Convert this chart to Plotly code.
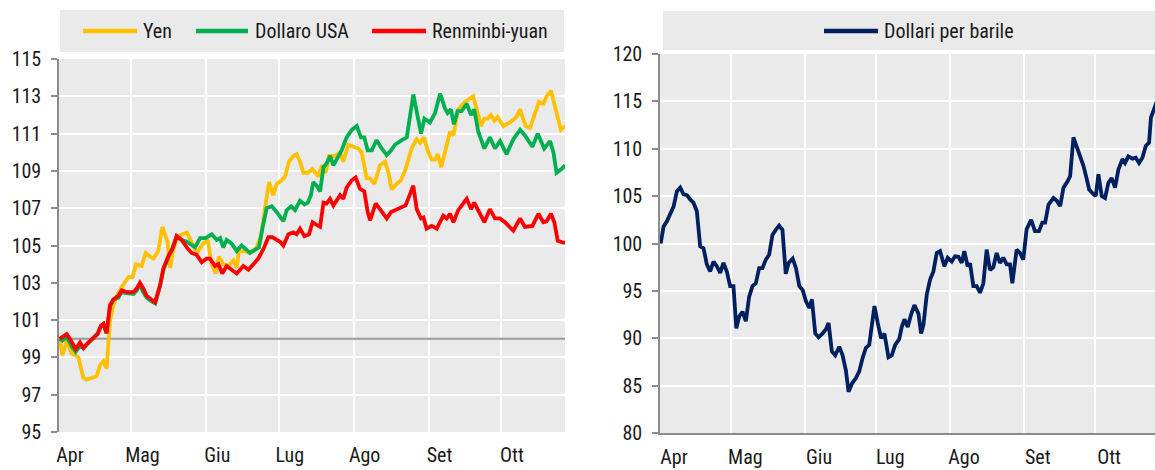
import plotly.graph_objects as go

# ---------------- data (x = days since 1 April) ----------------
months = ["Apr", "Mag", "Giu", "Lug", "Ago", "Set", "Ott"]
month_start_day = [0, 30, 61, 91, 122, 153, 183]

yen_x = [0.3, 1.4, 3.2, 5.2, 6.9, 8.0, 10.1, 11.5, 13.5, 15.6, 17.0, 18.4, 19.7, 21.1, 22.5, 23.9,
         26.6, 28.7, 30.4, 31.9, 34.2, 35.9, 37.7, 39.1, 41.1, 42.8, 44.9, 46.0, 47.3, 49.4, 52.9,
         55.6, 57.0, 59.8, 61.6, 63.2, 64.9, 66.2, 68.0, 70.1, 72.2, 73.6, 74.5, 77.0, 79.1, 81.8,
         83.6, 85.3, 87.0, 88.7, 90.1, 92.2, 93.6, 95.2, 97.0, 98.4, 99.8, 101.2, 103.0, 104.9,
         106.0, 107.4, 108.8, 110.4, 111.8, 114.3, 116.4, 117.7, 119.8, 121.9, 123.9, 125.3, 127.4,
         128.8, 130.6, 132.9, 135.0, 136.6, 137.7, 139.8, 141.6, 143.5, 146.0, 148.1, 149.5, 151.1,
         152.9, 154.3, 155.7, 156.8, 158.2, 159.8, 161.9, 163.3, 165.3, 168.1, 171.5, 173.6, 174.7,
         176.1, 177.5, 178.8, 180.2, 181.6, 184.0, 186.7, 189.5, 190.9, 193.2, 195.0, 196.8, 198.7,
         200.5, 201.9, 203.7, 205.3, 207.0, 207.8, 209.5]
yen_y = [100.0, 99.1, 99.9, 99.2, 99.1, 99.0, 97.9, 97.8, 97.9, 98.0, 98.6, 98.8, 98.4, 100.9, 101.8, 102.3,
         102.9, 103.3, 103.3, 104.0, 103.9, 104.6, 104.4, 104.3, 104.7, 106.0, 105.2, 103.8, 104.8, 105.5, 105.7,
         104.9, 104.6, 105.1, 105.3, 104.0, 103.5, 104.4, 104.0, 103.9, 104.2, 103.8, 104.7, 104.7, 104.6, 104.9,
         105.5, 107.0, 108.4, 107.7, 108.3, 108.5, 108.7, 109.5, 109.8, 109.9, 109.5, 108.9, 108.9, 109.1,
         108.9, 108.7, 109.3, 108.9, 109.8, 109.8, 110.0, 109.5, 110.4, 110.3, 110.2, 110.0, 108.6,
         108.6, 108.3, 109.3, 109.5, 108.8, 108.0, 108.3, 108.5, 109.1, 110.2, 110.7, 110.5, 110.8,
         110.0, 109.6, 109.6, 109.9, 109.2, 110.0, 111.1, 110.9, 112.3, 112.7, 113.0, 112.0, 111.4,
         111.8, 111.8, 112.0, 111.7, 111.9, 111.4, 111.6, 111.9, 112.3, 111.4, 111.3, 112.0, 112.7,
         112.6, 113.0, 113.3, 112.5, 111.5, 111.2, 111.4]

usd_x = [0.3, 1.4, 3.2, 5.2, 6.9, 8.7, 10.1, 12.1, 14.6, 16.0, 17.4, 18.4, 19.7, 21.1, 22.5, 24.6,
         25.9, 28.0, 30.8, 32.2, 33.5, 34.9, 36.3, 38.4, 39.8, 41.8, 43.2, 45.3, 46.9, 48.7, 50.8,
         52.9, 56.3, 58.4, 60.7, 63.2, 65.3, 66.7, 68.0, 69.4, 71.5, 73.6, 75.6, 79.1, 81.2, 82.8,
         84.2, 86.0, 88.1, 90.1, 92.9, 94.3, 96.1, 97.7, 99.8, 101.6, 103.0, 104.3, 105.3, 106.7,
         108.1, 109.5, 110.8, 112.2, 113.6, 115.7, 117.0, 119.1, 121.2, 123.3, 125.0, 126.4, 127.8,
         129.5, 131.5, 133.6, 135.7, 137.5, 139.1, 141.9, 144.0, 146.7, 148.5, 149.9, 151.3, 153.6,
         155.7, 157.8, 159.8, 160.9, 162.3, 163.5, 165.0, 166.7, 168.8, 170.6, 171.9, 173.6, 176.1,
         178.4, 180.5, 182.6, 185.3, 188.1, 190.9, 192.9, 196.0, 198.2, 200.9, 203.3, 204.7, 206.0,
         208.1, 209.5]
usd_y = [100.0, 99.9, 100.1, 99.6, 99.3, 99.6, 99.5, 99.8, 100.1, 100.3, 100.7, 100.8, 100.3, 101.7, 102.1, 102.2,
         102.5, 102.45, 102.4, 102.6, 102.9, 102.5, 102.2, 102.0, 101.9, 102.8, 103.7, 104.4, 104.8, 105.5, 105.3,
         105.2, 104.9, 105.4, 105.4, 105.6, 105.3, 105.4, 104.9, 105.3, 105.1, 104.7, 105.0, 104.6, 104.8, 104.9,
         105.9, 107.0, 107.1, 106.8, 106.3, 106.9, 107.1, 106.9, 107.4, 107.2, 107.3, 107.7, 108.4, 108.2,
         107.9, 109.2, 109.4, 109.8, 109.3, 109.8, 110.1, 110.8, 111.2, 111.4, 110.8, 110.8, 110.1,
         110.1, 110.65, 110.2, 109.85, 110.1, 110.4, 110.65, 110.8, 113.1, 111.9, 111.0, 111.8, 111.6,
         112.1, 113.15, 112.35, 112.1, 112.3, 111.5, 112.2, 112.2, 112.6, 112.0, 112.3, 111.1, 110.2,
         110.8, 110.2, 110.6, 109.9, 110.7, 111.2, 110.9, 110.3, 111.0, 110.2, 110.6, 110.0, 108.9,
         109.1, 109.3]

cny_x = [0.3, 3.2, 4.5, 6.9, 8.7, 10.1, 12.1, 14.6, 16.0, 17.4, 18.4, 19.7, 21.1, 22.5, 24.6, 25.9,
         28.0, 30.8, 32.2, 33.5, 34.9, 36.3, 38.4, 39.8, 41.8, 43.2, 45.3, 46.9, 48.7, 50.8, 52.9,
         54.9, 57.0, 59.1, 61.1, 62.5, 64.6, 66.0, 67.6, 69.4, 71.5, 73.6, 76.3, 78.4, 80.5, 82.5,
         84.6, 86.7, 88.3, 91.5, 92.9, 95.0, 97.0, 98.4, 99.8, 101.6, 103.5, 105.0, 106.7, 108.1,
         109.5, 110.8, 112.2, 113.6, 116.4, 117.7, 119.1, 121.2, 122.8, 124.6, 126.4, 127.8, 128.8,
         131.1, 132.9, 135.7, 137.5, 139.4, 141.6, 143.5, 146.7, 148.1, 149.9, 150.9, 152.2, 154.3,
         156.4, 159.1, 160.5, 161.9, 163.3, 165.3, 168.8, 170.6, 171.9, 173.9, 176.1, 178.4, 180.5,
         182.6, 184.6, 188.1, 190.9, 192.9, 196.0, 198.5, 200.5, 201.9, 203.7, 205.1, 206.5, 208.8,
         209.5]
cny_y = [100.0, 100.25, 100.0, 99.45, 99.8, 99.5, 99.8, 100.1, 100.25, 100.7, 100.8, 100.3, 101.8, 102.1, 102.3, 102.6,
         102.5, 102.5, 102.7, 103.0, 102.7, 102.3, 102.1, 101.95, 102.85, 103.75, 104.45, 104.8, 105.5, 105.3, 104.9,
         104.6, 104.5, 104.1, 104.3, 104.3, 103.9, 104.0, 103.5, 103.9, 103.7, 103.5, 103.9, 103.7, 104.0, 104.3,
         104.8, 105.45, 105.45, 105.2, 105.0, 105.6, 105.7, 105.6, 105.9, 105.5, 105.6, 106.25, 106.1, 106.0,
         107.3, 107.25, 107.5, 107.15, 107.7, 107.5, 108.1, 108.5, 108.65, 108.05, 107.9, 106.8, 106.35,
         107.25, 106.95, 106.45, 106.8, 106.9, 107.05, 107.15, 108.2, 106.95, 106.45, 106.5, 105.9, 106.05,
         105.9, 106.6, 106.45, 106.7, 106.25, 106.9, 107.5, 106.95, 107.3, 106.8, 106.25, 106.95, 106.45,
         106.45, 106.25, 105.8, 106.45, 106.0, 106.05, 106.7, 106.25, 106.3, 106.7, 106.25, 105.25, 105.15,
         105.15]

oil_x = [0.3, 1.5, 2.9, 4.3, 5.7, 7.1, 8.5, 9.9, 11.3, 12.7, 14.1, 15.5, 16.9, 18.3, 19.7, 21.1,
         22.5, 23.9, 25.3, 26.7, 28.1, 29.5, 30.9, 32.1, 33.3, 34.7, 36.1, 37.5, 38.9, 40.3, 41.7,
         43.1, 44.5, 45.9, 47.3, 48.7, 50.1, 51.5, 52.9, 54.1, 55.8, 57.2, 58.6, 60.0, 61.4, 62.8,
         63.9, 65.3, 66.7, 68.4, 69.8, 70.9, 72.3, 73.7, 75.4, 76.8, 78.2, 79.3, 80.7, 82.4, 83.8,
         85.2, 86.6, 88.0, 89.1, 90.2, 91.6, 93.0, 94.4, 96.1, 97.5, 98.9, 100.6, 101.7, 102.8,
         104.2, 105.6, 107.0, 108.7, 109.8, 110.8, 112.2, 113.6, 115.0, 116.4, 117.8, 119.6, 121.0,
         122.7, 124.1, 125.5, 126.9, 128.0, 129.4, 130.4, 131.8, 133.2, 134.6, 136.0, 137.4, 138.8,
         140.2, 141.6, 143.0, 144.4, 145.8, 147.2, 148.2, 150.0, 151.4, 152.8, 154.2, 156.1, 157.7,
         159.4, 160.8, 162.0, 163.4, 165.5, 166.9, 168.3, 169.7, 171.5, 172.5, 173.9, 176.0, 178.1,
         179.5, 180.5, 182.3, 183.3, 184.4, 185.8, 187.2, 188.6, 190.0, 191.4, 192.8, 194.5, 195.6,
         197.0, 198.7, 200.1, 201.5, 202.9, 204.3, 205.7, 206.5, 207.9, 209.0]
oil_y = [100.0, 101.8, 102.35, 103.2, 103.9, 105.5, 105.9, 105.2, 105.1, 104.65, 104.3, 103.4, 99.7, 99.5, 97.8, 97.05,
         98.1, 97.6, 96.9, 97.95, 97.05, 95.5, 95.5, 91.05, 92.3, 92.8, 91.8, 94.4, 95.5, 95.8, 97.4,
         97.4, 98.3, 98.8, 100.9, 101.45, 101.9, 101.45, 96.8, 97.95, 98.4, 97.4, 95.5, 95.1, 93.9, 93.2,
         94.1, 90.5, 90.1, 90.5, 90.95, 91.6, 88.6, 88.2, 89.1, 88.2, 86.6, 84.35, 85.2, 85.8, 86.5,
         87.9, 89.0, 89.3, 91.6, 93.4, 91.6, 90.0, 90.5, 88.0, 88.2, 89.3, 89.9, 91.2, 92.0,
         91.2, 92.5, 93.5, 92.6, 90.5, 91.4, 94.6, 96.2, 97.05, 99.0, 99.2, 97.6, 98.5,
         98.1, 98.65, 98.6, 97.95, 99.2, 97.6, 97.9, 95.5, 95.5, 94.8, 95.8, 99.35, 97.2,
         97.5, 99.0, 97.95, 98.5, 97.8, 97.8, 95.8, 99.35, 99.0, 98.3, 101.5, 102.5, 101.3,
         101.3, 102.2, 102.2, 104.1, 104.8, 104.5, 103.95, 105.9, 106.6, 107.1, 111.2, 109.6, 108.2,
         106.8, 105.7, 105.2, 105.0, 107.3, 105.0, 104.8, 106.4, 106.9, 105.9, 107.8, 108.9, 108.5,
         109.2, 108.95, 109.05, 108.5, 109.05, 110.3, 110.65, 113.3, 114.35, 115.0]

# ---------------- styling ----------------
W, H = 1155, 470
BG = "#EAEAEA"
AXIS = "#8C8C8C"
FONT = "Liberation Sans Narrow, Arial Narrow, Roboto Condensed, Liberation Sans, sans-serif"
TXT = "#1A1A1A"
C_YEN, C_USD, C_CNY, C_OIL = "#FFC000", "#00B050", "#FF0000", "#002060"


def px(x):
    return x / W


def py(y):
    return 1 - y / H


fig = go.Figure()
lw = 3.8
fig.add_trace(go.Scatter(x=yen_x, y=yen_y, mode="lines", name="Yen",
                         line=dict(color=C_YEN, width=lw), xaxis="x", yaxis="y"))
fig.add_trace(go.Scatter(x=usd_x, y=usd_y, mode="lines", name="Dollaro USA",
                         line=dict(color=C_USD, width=lw), xaxis="x", yaxis="y"))
fig.add_trace(go.Scatter(x=cny_x, y=cny_y, mode="lines", name="Renminbi-yuan",
                         line=dict(color=C_CNY, width=lw), xaxis="x", yaxis="y"))
fig.add_trace(go.Scatter(x=oil_x, y=oil_y, mode="lines", name="Dollari per barile",
                         line=dict(color=C_OIL, width=lw), xaxis="x2", yaxis="y2"))

tickfont = dict(family=FONT, size=20, color=TXT)
common_x = dict(tickmode="array", tickvals=month_start_day, ticktext=months,
                showgrid=True, gridcolor="white", gridwidth=2, zeroline=False,
                ticks="", tickfont=tickfont, fixedrange=True, automargin=False)
common_y = dict(showgrid=True, gridcolor="white", gridwidth=2, zeroline=False,
                showline=True, linecolor=AXIS, linewidth=1.5,
                ticks="outside", ticklen=6, tickcolor=AXIS, tickwidth=1.5,
                tickfont=tickfont, ticklabelstandoff=6, fixedrange=True, automargin=False)

fig.update_layout(
    template="none",
    width=W, height=H, autosize=False,
    margin=dict(l=0, r=0, t=0, b=0, pad=0),
    paper_bgcolor="white", plot_bgcolor=BG,
    showlegend=False,
    xaxis=dict(domain=[px(59), px(565)], range=[0, 209.5], anchor="y",
               showline=False, ticklabelshift=11, ticklabelstandoff=9, **common_x),
    yaxis=dict(domain=[py(432), py(59)], range=[95, 115], tickvals=list(range(95, 116, 2)),
               anchor="x", **common_y),
    xaxis2=dict(domain=[px(660), 1.0], range=[0, 208.2], anchor="y2",
                showline=True, linecolor=AXIS, linewidth=1.5,
                ticklabelshift=14, ticklabelstandoff=5, **common_x),
    yaxis2=dict(domain=[py(433), py(54)], range=[80, 120], tickvals=list(range(80, 121, 5)),
                anchor="x2", **common_y),
)

shapes = [
    # y = 100 reference line in left chart
    dict(type="line", xref="x", yref="y", x0=0, x1=209.5, y0=100, y1=100,
         line=dict(color="#9A9A9A", width=2), layer="between"),
    # legend boxes
    dict(type="rect", xref="paper", yref="paper", x0=px(60), x1=px(564), y0=py(52), y1=py(10),
         fillcolor=BG, line=dict(width=0), layer="below"),
    dict(type="rect", xref="paper", yref="paper", x0=px(663), x1=1.0, y0=py(50), y1=py(11),
         fillcolor=BG, line=dict(width=0), layer="below"),
]
legend_items = [
    ("Yen", C_YEN, 83, 137, 141, 31),
    ("Dollaro USA", C_USD, 196, 248, 253, 31),
    ("Renminbi-yuan", C_CNY, 372, 426, 430, 31),
    ("Dollari per barile", C_OIL, 824, 878, 882, 31),
]
annotations = []
for label, col, lx0, lx1, tx, ly in legend_items:
    shapes.append(dict(type="line", xref="paper", yref="paper", x0=px(lx0), x1=px(lx1),
                       y0=py(ly), y1=py(ly), line=dict(color=col, width=4.5)))
    annotations.append(dict(text=label, xref="paper", yref="paper", x=px(tx), y=py(ly),
                            xanchor="left", yanchor="middle", showarrow=False,
                            font=dict(family=FONT, size=20, color=TXT)))

fig.update_layout(shapes=shapes, annotations=annotations)

fig.write_html("out.html", config={"displayModeBar": False},
               post_script="document.body.style.margin='0';document.body.style.overflow='hidden';")
